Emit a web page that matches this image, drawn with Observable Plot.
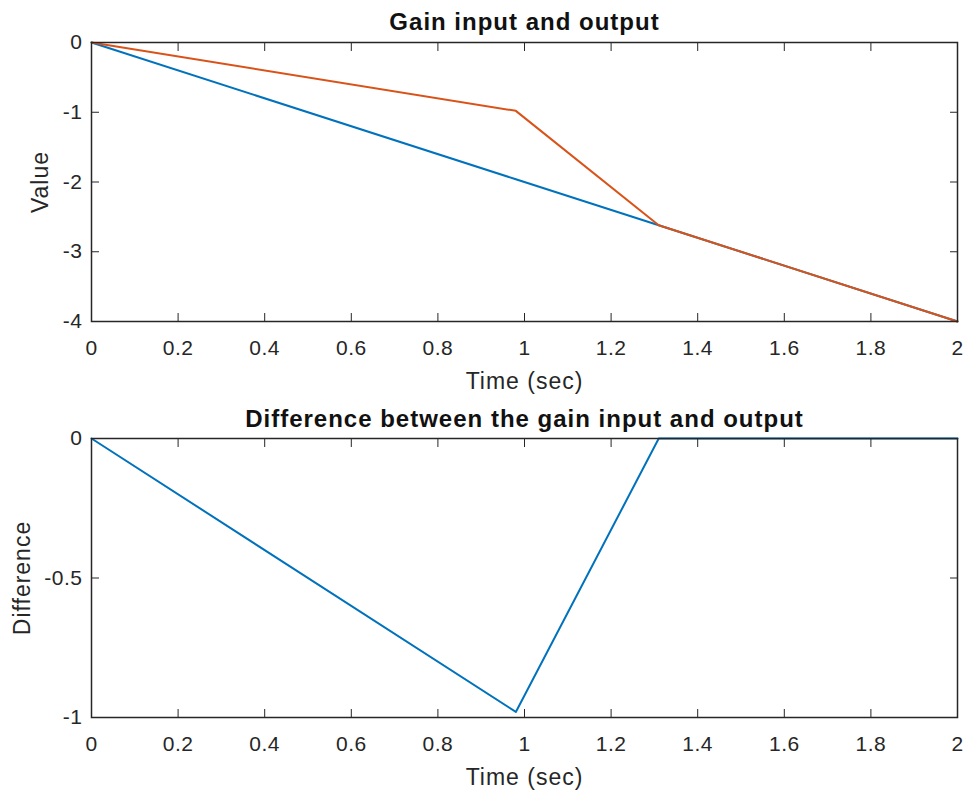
<!DOCTYPE html>
<html>
<head>
<meta charset="utf-8">
<script src="https://cdn.jsdelivr.net/npm/d3@7"></script>
<script src="https://cdn.jsdelivr.net/npm/@observablehq/plot@0.6"></script>
<style>
  html, body { margin: 0; padding: 0; background: #fff; }
  #chart svg { display: block; }
  #chart svg g[aria-label$="axis tick label"] text { letter-spacing: 0.5px; }
</style>
</head>
<body>
<div id="chart"></div>
<script>
// ---- data ----
const time = [0, 0.98, 1.31, 2];
const gainInput = [0, -1.96, -2.62, -4];
const gainOutput = [0, -0.98, -2.62, -4];
const difference = [0, -0.98, 0, 0];

const xTicks = [0, 0.2, 0.4, 0.6, 0.8, 1, 1.2, 1.4, 1.6, 1.8, 2];
const valueTicks = [0, -1, -2, -3, -4];
const diffTicks = [0, -0.5, -1];

const titles = ["Gain input and output", "Difference between the gain input and output"];
const xLabel = "Time (sec)";
const yLabels = ["Value", "Difference"];

// ---- styling ----
const BLUE = "#0072BD";
const ORANGE = "#D95319";
const AXIS = "#262626";
const FONT = "'Liberation Sans', Arial, Helvetica, sans-serif";

const fmt = d => String(d);

function subplot({series, yDomain, yTicks, title, yLabel, marginTop, marginBottom, yLabelDx, titleDy}) {
  const marks = [];
  for (const s of series) {
    marks.push(Plot.line(time.map((t, i) => ({t, v: s.values[i]})), {
      x: "t", y: "v", stroke: s.color, strokeWidth: 2
    }));
  }
  marks.push(
    Plot.frame({stroke: AXIS, strokeWidth: 1.5}),
    Plot.axisX({ticks: xTicks, tickSize: -8, tickPadding: 27, tickFormat: fmt, label: null, stroke: AXIS, fontSize: 21}),
    Plot.axisX({anchor: "top", ticks: xTicks, tickSize: -8, tickFormat: () => "", label: null, stroke: AXIS}),
    Plot.axisY({ticks: yTicks, tickSize: -8, tickPadding: 17, tickFormat: fmt, label: null, stroke: AXIS, fontSize: 21}),
    Plot.axisY({anchor: "right", ticks: yTicks, tickSize: -8, tickFormat: () => "", label: null, stroke: AXIS}),
    Plot.text([xLabel], {frameAnchor: "bottom", dy: 60, text: d => d, fontSize: 23, fill: AXIS,
      textAnchor: "middle", lineAnchor: "middle"}),
    Plot.text([yLabel], {frameAnchor: "left", dx: yLabelDx, rotate: -90, text: d => d, fontSize: 23, fill: AXIS,
      textAnchor: "middle", lineAnchor: "middle"}),
    Plot.text([title], {frameAnchor: "top", dy: titleDy, text: d => d, fontSize: 24, fontWeight: "bold", fill: "#111",
      textAnchor: "middle", lineAnchor: "middle"})
  );
  const svg = Plot.plot({
    width: 969,
    height: 397,
    marginLeft: 91,
    marginRight: 12,
    marginTop,
    marginBottom,
    x: {domain: [0, 2]},
    y: {domain: yDomain},
    style: {fontFamily: FONT, fontSize: "21px", color: AXIS, background: "#fff", overflow: "visible"},
    marks
  });
  // MATLAB-like looser letter spacing for titles and labels
  svg.querySelectorAll("g[aria-label='text'] text").forEach(t => t.setAttribute("letter-spacing", "1px"));
  return svg;
}

const chart = document.getElementById("chart");
chart.append(subplot({
  series: [{values: gainInput, color: BLUE}, {values: gainOutput, color: ORANGE}],
  yDomain: [-4, 0],
  yTicks: valueTicks,
  title: titles[0],
  yLabel: yLabels[0],
  marginTop: 42,
  marginBottom: 76,
  yLabelDx: -51,
  titleDy: -20
}));
chart.append(subplot({
  series: [{values: difference, color: BLUE}],
  yDomain: [-1, 0],
  yTicks: diffTicks,
  title: titles[1],
  yLabel: yLabels[1],
  marginTop: 41,
  marginBottom: 77,
  yLabelDx: -69,
  titleDy: -19
}));
</script>
</body>
</html>
